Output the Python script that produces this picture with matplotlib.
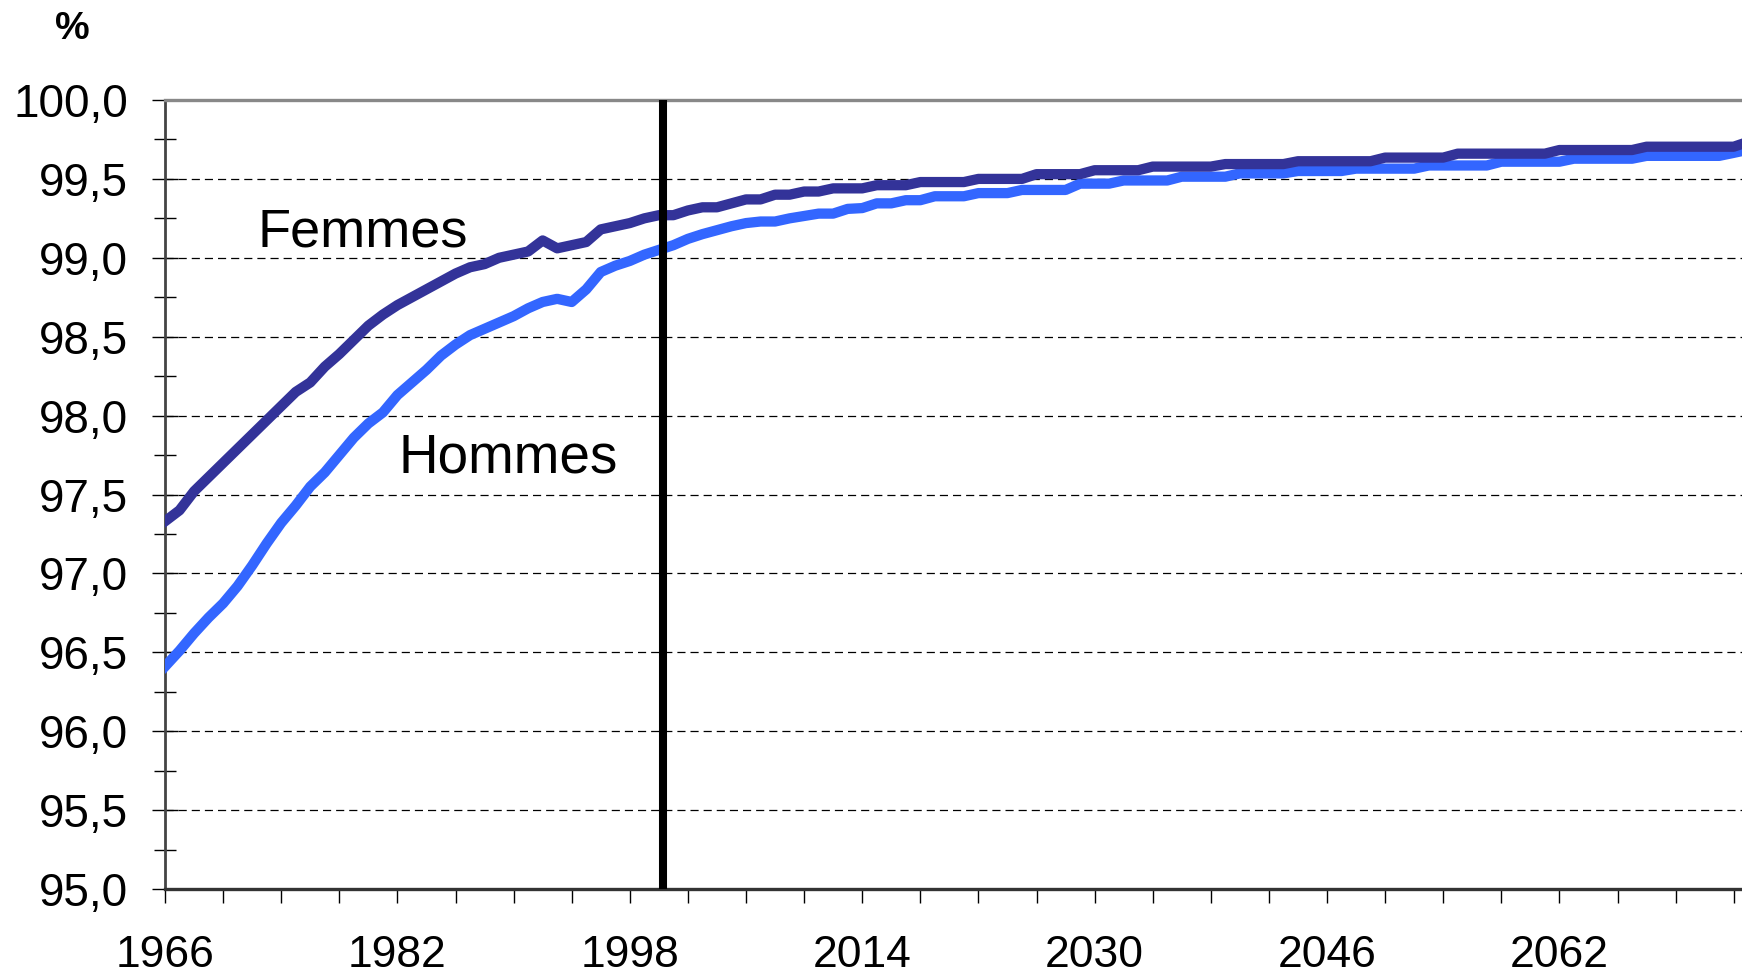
import matplotlib
matplotlib.use("Agg")
import matplotlib.pyplot as plt
from matplotlib.ticker import MultipleLocator, FuncFormatter

plt.rcParams['font.family'] = ['Liberation Sans', 'DejaVu Sans']

# annees 1966 -> 2075
years = list(range(1966, 2076))

femmes = [97.33, 97.40, 97.52, 97.61, 97.70, 97.79, 97.88, 97.97, 98.06, 98.15,
          98.21, 98.31, 98.39, 98.48, 98.57, 98.64, 98.70, 98.75, 98.80, 98.85,
          98.90, 98.94, 98.96, 99.00, 99.02, 99.04, 99.11, 99.06, 99.08, 99.10,
          99.18, 99.20, 99.22, 99.25, 99.27, 99.27, 99.30, 99.32, 99.32, 99.345,
          99.37, 99.37, 99.40, 99.40, 99.42, 99.42, 99.44, 99.44, 99.44, 99.46,
          99.46, 99.46, 99.48, 99.48, 99.48, 99.48, 99.50, 99.50, 99.50, 99.50,
          99.53, 99.53, 99.53, 99.53, 99.555, 99.555, 99.555, 99.555,
          99.578, 99.578, 99.578, 99.578, 99.578,
          99.594, 99.594, 99.594, 99.594, 99.594,
          99.612, 99.612, 99.612, 99.612, 99.612, 99.612,
          99.635, 99.635, 99.635, 99.635, 99.635,
          99.66, 99.66, 99.66, 99.66, 99.66, 99.66, 99.66,
          99.683, 99.683, 99.683, 99.683, 99.683, 99.683,
          99.704, 99.704, 99.704, 99.704, 99.704, 99.704, 99.704,
          99.735]

hommes = [96.41, 96.51, 96.62, 96.72, 96.81, 96.92, 97.05, 97.19, 97.32, 97.43,
          97.55, 97.64, 97.75, 97.86, 97.95, 98.02, 98.13, 98.21, 98.29, 98.38,
          98.45, 98.51, 98.55, 98.59, 98.63, 98.68, 98.72, 98.74, 98.72, 98.80,
          98.91, 98.95, 98.98, 99.02, 99.05, 99.08, 99.12, 99.15, 99.175, 99.20,
          99.22, 99.23, 99.23, 99.25, 99.265, 99.28, 99.28, 99.31, 99.315, 99.345,
          99.345, 99.365, 99.365, 99.39, 99.39, 99.39, 99.41, 99.41, 99.41,
          99.43, 99.43, 99.43, 99.43,
          99.47, 99.47, 99.47,
          99.49, 99.49, 99.49, 99.49,
          99.514, 99.514, 99.514, 99.514,
          99.535, 99.535, 99.535, 99.535,
          99.55, 99.55, 99.55, 99.55,
          99.565, 99.565, 99.565, 99.565, 99.565,
          99.585, 99.585, 99.585, 99.585, 99.585,
          99.609, 99.609, 99.609, 99.609, 99.609,
          99.628, 99.628, 99.628, 99.628, 99.628,
          99.646, 99.646, 99.646, 99.646, 99.646, 99.646,
          99.665, 99.685]

annee_limite = 2000.3

fig = plt.figure(figsize=(17.42, 9.75), dpi=100)
ax = fig.add_axes([165 / 1742, 1 - 889 / 975, 1 - 165 / 1742, (889 - 100) / 975])

ax.plot(years, hommes, color='#3366FF', lw=7.4, solid_joinstyle='round', zorder=3)
ax.plot(years, femmes, color='#333399', lw=7.4, solid_joinstyle='round', zorder=4)
ax.axvline(annee_limite, color='black', lw=5.8, zorder=5)

ax.set_xlim(1966, 2074.57)
ax.set_ylim(95, 100)

# axe y
ax.yaxis.set_major_locator(MultipleLocator(0.5))
ax.yaxis.set_minor_locator(MultipleLocator(0.25))
ax.yaxis.set_major_formatter(FuncFormatter(lambda v, p: f"{v:.1f}".replace('.', ',')))
ax.tick_params(axis='y', which='both', direction='inout', length=19, width=1,
               pad=17, labelsize=33, colors='black')
ax.tick_params(axis='y', which='minor', length=16)

# axe x
ax.set_xticks(range(1966, 2075, 16))
ax.set_xticks(range(1966, 2075, 4), minor=True)
ax.tick_params(axis='x', which='both', direction='out', length=10, width=1,
               pad=23, labelsize=32, colors='black')

ax.yaxis.grid(True, which='major', color='black', lw=0.9, linestyle=(0, (6.5, 4)))
ax.set_axisbelow(True)

ax.spines['right'].set_visible(False)
ax.spines['top'].set_color('#888888')
ax.spines['top'].set_linewidth(2.4)
ax.spines['left'].set_color('#444444')
ax.spines['left'].set_linewidth(2)
ax.spines['bottom'].set_color('#333333')
ax.spines['bottom'].set_linewidth(2.4)

ax.text(1972.4, 99.07, 'Femmes', fontsize=39, va='baseline', ha='left')
ax.text(1982.1, 97.64, 'Hommes', fontsize=39.5, va='baseline', ha='left')

fig.text(72 / 1742, 1 - 29 / 975, '%', fontsize=28, fontweight='bold',
         ha='center', va='center')

fig.savefig('out.png', dpi=100)
